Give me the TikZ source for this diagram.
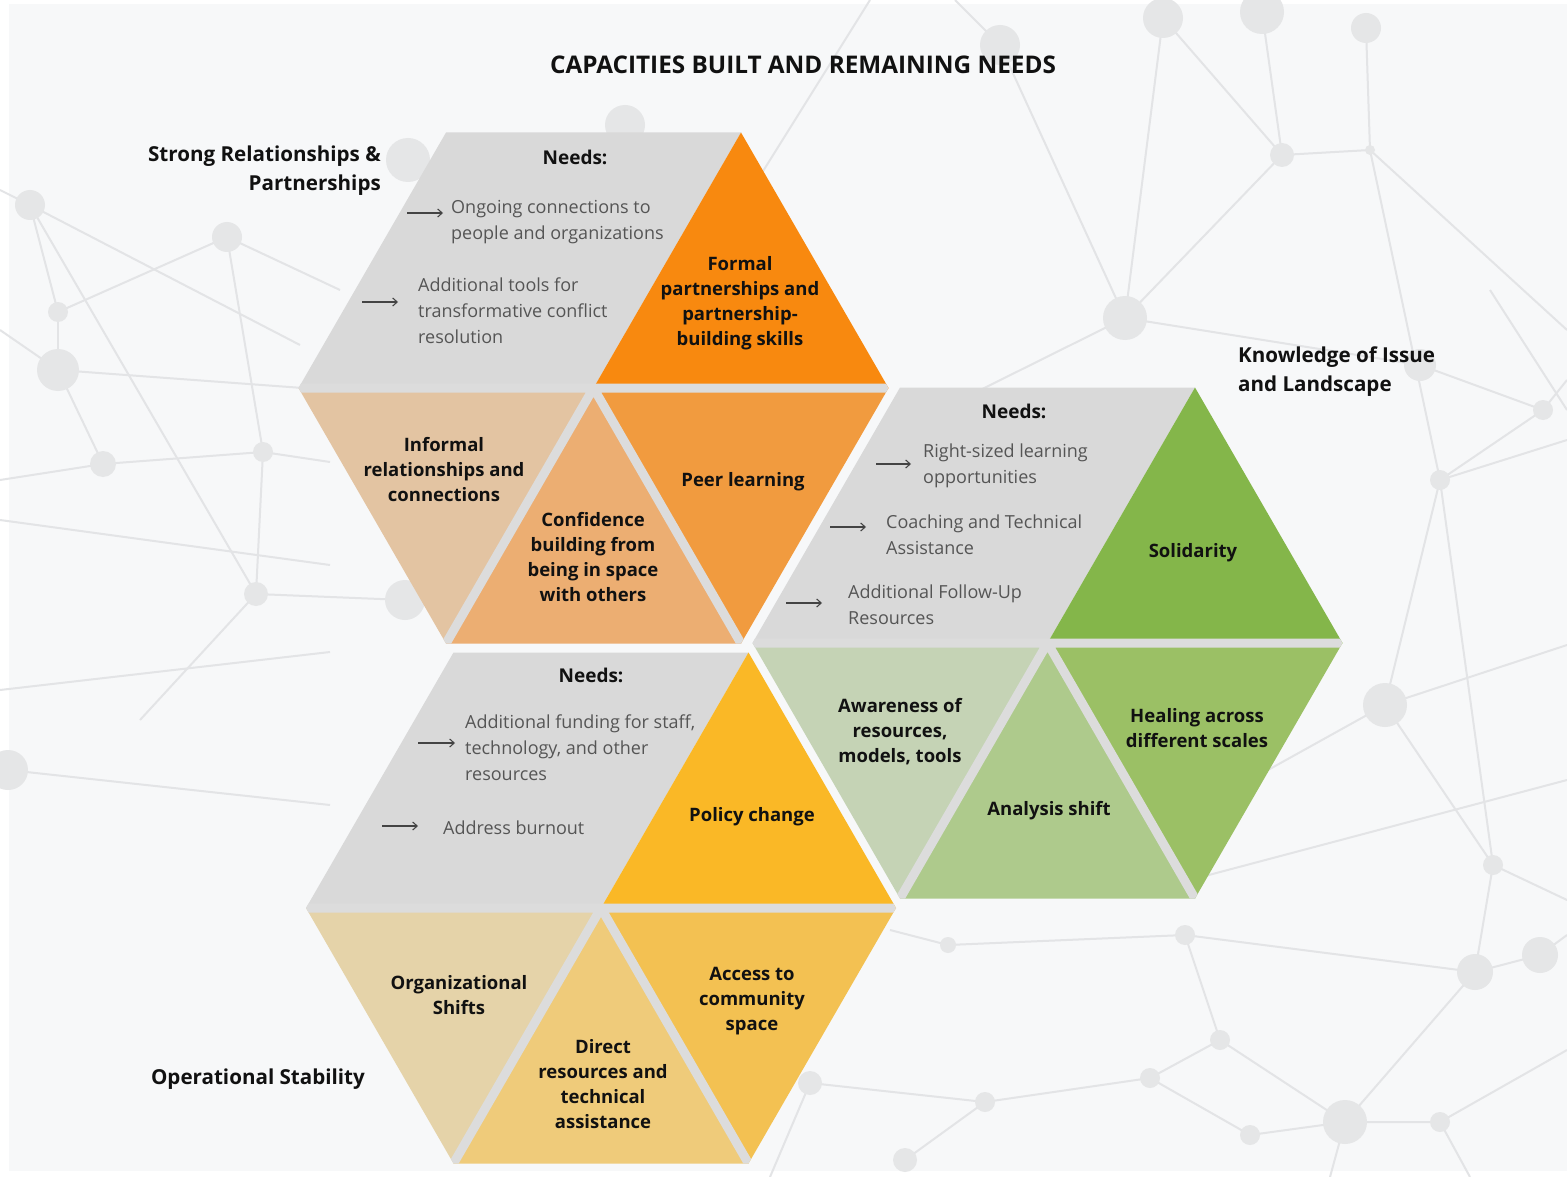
\documentclass[tikz,border=0pt]{standalone}
\usepackage{fontspec}
\setmainfont{Open Sans}
\usetikzlibrary{calc,arrows.meta}
\definecolor{bgc}{HTML}{F7F8F9}
\definecolor{netc}{HTML}{E3E4E6}
\definecolor{dotc}{HTML}{E5E6E7}
\definecolor{needc}{HTML}{D9D9D9}
\definecolor{gapc}{HTML}{DCDCDC}
\definecolor{ntext}{HTML}{555555}
\definecolor{ink}{HTML}{111111}
\definecolor{oFormal}{HTML}{F8890F}
\definecolor{oPeer}{HTML}{F19B3F}
\definecolor{oConf}{HTML}{ECAE72}
\definecolor{oInf}{HTML}{E3C4A2}
\definecolor{gSol}{HTML}{84B64A}
\definecolor{gHeal}{HTML}{9BC065}
\definecolor{gAna}{HTML}{AECA8C}
\definecolor{gAwa}{HTML}{C5D3B5}
\definecolor{yPol}{HTML}{FAB826}
\definecolor{yAcc}{HTML}{F3C152}
\definecolor{yDir}{HTML}{EFCB7A}
\definecolor{yOrg}{HTML}{E5D3A9}
\newcommand{\hexpts}[3]{%
  \coordinate (#1c) at (#2,#3);
  \coordinate (#1L) at ($(#1c)+(-295,0)$);
  \coordinate (#1TL) at ($(#1c)+(-147.5,-255.5)$);
  \coordinate (#1TR) at ($(#1c)+(147.5,-255.5)$);
  \coordinate (#1R) at ($(#1c)+(295,0)$);
  \coordinate (#1BR) at ($(#1c)+(147.5,255.5)$);
  \coordinate (#1BL) at ($(#1c)+(-147.5,255.5)$);
}
\newcommand{\hexspokes}[1]{%
  \begin{scope}
    \clip (#1L) -- (#1TL) -- (#1TR) -- (#1R) -- (#1BR) -- (#1BL) -- cycle;
    \draw[spoke] (#1c) -- (#1L) (#1c) -- (#1R) (#1c) -- (#1BR) (#1c) -- (#1BL);
  \end{scope}
}
\begin{document}
\begin{tikzpicture}[x=1pt,y=-1pt,
  net/.style={draw=netc,line width=2pt},
  dot/.style={fill=dotc},
  spoke/.style={draw=gapc,line width=9pt,line cap=butt},
  lab/.style={font=\bfseries\fontsize{18.5}{25}\selectfont,text=ink,align=center,inner sep=0pt,yshift=-2pt},
  needhead/.style={font=\bfseries\fontsize{19}{25}\selectfont,text=ink,inner sep=0pt},
  need/.style={font=\fontsize{18}{26}\selectfont,text=ntext,align=left,anchor=west,inner sep=0pt,yshift=-2pt},
  grp/.style={font=\bfseries\fontsize{20.6}{29}\selectfont,text=ink,inner sep=0pt,yshift=-3pt},
  arr/.style={draw=ntext!80!black,line width=1.1pt,-{Straight Barb[length=4.5pt,width=8pt]}}
]
\useasboundingbox (0,0) rectangle (1567,1177);
\fill[white] (0,0) rectangle (1567,1177);
\fill[bgc] (9,4) rectangle (1567,1171);

% ---------------- background network ----------------
\draw[net] (0,190) -- (30,205) -- (300,345);
\draw[net] (30,205) -- (256,594);
\draw[net] (30,205) -- (58,312);
\draw[net] (227,237) -- (263,452);
\draw[net] (227,237) -- (58,312);
\draw[net] (227,237) -- (340,290);
\draw[net] (58,312) -- (58,370);
\draw[net] (0,330) -- (58,370) -- (330,390);
\draw[net] (58,370) -- (103,464) -- (263,452) -- (330,462);
\draw[net] (0,480) -- (103,464);
\draw[net] (263,452) -- (256,594) -- (405,600);
\draw[net] (0,520) -- (330,565);
\draw[net] (256,594) -- (140,720);
\draw[net] (0,690) -- (330,652);
\draw[net] (8,770) -- (330,805);
\draw[net] (870,0) -- (700,272);
\draw[net] (1000,45) -- (1125,318);
\draw[net] (1000,45) -- (955,0);
\draw[net] (1125,318) -- (920,420);
\draw[net] (1125,318) -- (1282,155);
\draw[net] (1163,18) -- (1125,318);
\draw[net] (1163,18) -- (1282,155);
\draw[net] (1262,12) -- (1282,155) -- (1370,150);
\draw[net] (1366,28) -- (1370,150) -- (1567,330);
\draw[net] (1370,150) -- (1440,480);
\draw[net] (1125,318) -- (1420,365) -- (1543,410) -- (1567,380);
\draw[net] (1440,480) -- (1543,410);
\draw[net] (1440,480) -- (1567,440);
\draw[net] (1440,480) -- (1385,705);
\draw[net] (1440,480) -- (1493,865);
\draw[net] (1490,290) -- (1567,410);
\draw[net] (1385,705) -- (1567,645);
\draw[net] (1385,705) -- (1250,780);
\draw[net] (1385,705) -- (1493,865) -- (1567,900);
\draw[net] (1493,865) -- (1475,972) -- (1540,955) -- (1567,935);
\draw[net] (1475,972) -- (1345,1122);
\draw[net] (1475,972) -- (1185,935) -- (948,945) -- (890,930);
\draw[net] (1185,935) -- (1220,1040) -- (1150,1078) -- (985,1102) -- (810,1083);
\draw[net] (985,1102) -- (905,1160);
\draw[net] (1150,1078) -- (1250,1135) -- (1345,1122) -- (1440,1122) -- (1567,1050);
\draw[net] (1220,1040) -- (1345,1122) -- (1330,1177);
\draw[net] (1440,1122) -- (1470,1177);
\draw[net] (810,1083) -- (770,1177);
\draw[net] (1567,780) -- (1190,880);
\foreach \px/\py/\r in {30/205/15, 227/237/15, 58/312/10, 58/370/21, 103/464/13, 263/452/10,
  256/594/12, 405/600/20, 408/160/22, 8/770/20, 625/125/20, 1000/45/20, 1163/18/20,
  1262/12/22, 1366/28/15, 1282/155/12, 1370/150/5, 1125/318/22, 1420/365/16, 1543/410/10,
  1440/480/10, 1385/705/22, 1493/865/10, 1540/955/18, 1475/972/18, 1185/935/10, 948/945/8,
  1220/1040/10, 1150/1078/10, 985/1102/10, 1345/1122/22, 1250/1135/10, 1440/1122/10,
  905/1160/12, 810/1083/12}
  \fill[dot] (\px,\py) circle[radius=\r pt];

% ---------------- hexagon vertices ----------------
\hexpts{ha}{593.5}{388}
\hexpts{hb}{1047.5}{643}
\hexpts{hc}{601}{908}

% ---------------- hexagon 1 (orange) ----------------
\fill[needc] (haL) -- (haTL) -- (haTR) -- (hac) -- cycle;
\fill[oFormal] (hac) -- (haTR) -- (haR) -- cycle;
\fill[oPeer] (hac) -- (haR) -- (haBR) -- cycle;
\fill[oConf] (hac) -- (haBR) -- (haBL) -- cycle;
\fill[oInf] (hac) -- (haBL) -- (haL) -- cycle;
\hexspokes{ha}

% ---------------- hexagon 2 (green) ----------------
\fill[needc] (hbL) -- (hbTL) -- (hbTR) -- (hbc) -- cycle;
\fill[gSol] (hbc) -- (hbTR) -- (hbR) -- cycle;
\fill[gHeal] (hbc) -- (hbR) -- (hbBR) -- cycle;
\fill[gAna] (hbc) -- (hbBR) -- (hbBL) -- cycle;
\fill[gAwa] (hbc) -- (hbBL) -- (hbL) -- cycle;
\hexspokes{hb}

% ---------------- hexagon 3 (yellow) ----------------
\fill[needc] (hcL) -- (hcTL) -- (hcTR) -- (hcc) -- cycle;
\fill[yPol] (hcc) -- (hcTR) -- (hcR) -- cycle;
\fill[yAcc] (hcc) -- (hcR) -- (hcBR) -- cycle;
\fill[yDir] (hcc) -- (hcBR) -- (hcBL) -- cycle;
\fill[yOrg] (hcc) -- (hcBL) -- (hcL) -- cycle;
\hexspokes{hc}

% ---------------- titles ----------------
\node[font=\bfseries\fontsize{24.3}{28}\selectfont,text=ink,inner sep=0pt] (title) at (803,65) {CAPACITIES BUILT AND REMAINING NEEDS};
\node[grp,align=right,anchor=east] (gStrong) at (381,168) {Strong Relationships \&\\Partnerships};
\node[grp,align=left,anchor=west] (gKnow) at (1238,369) {Knowledge of Issue\\and Landscape};
\node[grp] (gOper) at (258,1076) {Operational Stability};

% ---------------- hexagon 1 texts ----------------
\node[needhead] (needA) at (575,157) {Needs:};
\node[need] (nA1) at (451,220) {Ongoing connections to\\people and organizations};
\node[need] (nA2) at (418,309) {Additional tools for\\transformative conflict\\resolution};
\coordinate (aA1s) at (407,213); \coordinate (aA1e) at (443,213);
\coordinate (aA2s) at (362,302); \coordinate (aA2e) at (398,302);
\draw[arr] (aA1s) -- (aA1e);
\draw[arr] (aA2s) -- (aA2e);
\node[lab] (formal) at (740,301) {Formal\\partnerships and\\partnership-\\building skills};
\node[lab] (informal) at (444,468) {Informal\\relationships and\\connections};
\node[lab] (confid) at (593,555) {Confidence\\building from\\being in space\\with others};
\node[lab] (peer) at (743,480) {Peer learning};

% ---------------- hexagon 2 texts ----------------
\node[needhead] (needB) at (1014,411) {Needs:};
\node[need] (nB1) at (923,464) {Right-sized learning\\opportunities};
\node[need] (nB2) at (886,533) {Coaching and Technical\\Assistance};
\node[need] (nB3) at (848,603) {Additional Follow-Up\\Resources};
\coordinate (aB1s) at (876,464); \coordinate (aB1e) at (911,464);
\coordinate (aB2s) at (830,527); \coordinate (aB2e) at (866,527);
\coordinate (aB3s) at (786,603); \coordinate (aB3e) at (822,603);
\draw[arr] (aB1s) -- (aB1e);
\draw[arr] (aB2s) -- (aB2e);
\draw[arr] (aB3s) -- (aB3e);
\node[lab] (solid) at (1193,551) {Solidarity};
\node[lab] (aware) at (900,730) {Awareness of\\resources,\\models, tools};
\node[lab] (analysis) at (1049,809) {Analysis shift};
\node[lab] (healing) at (1197,726) {Healing across\\different scales};

% ---------------- hexagon 3 texts ----------------
\node[needhead] (needC) at (591,675) {Needs:};
\node[need] (nC1) at (465,746) {Additional funding for staff,\\technology, and other\\resources};
\node[need] (nC2) at (443,826) {Address burnout};
\coordinate (aC1s) at (418,743); \coordinate (aC1e) at (455,743);
\coordinate (aC2s) at (382,826); \coordinate (aC2e) at (418,826);
\draw[arr] (aC1s) -- (aC1e);
\draw[arr] (aC2s) -- (aC2e);
\node[lab] (policy) at (752,815) {Policy change};
\node[lab] (orgsh) at (459,993) {Organizational\\Shifts};
\node[lab] (direct) at (603,1082) {Direct\\resources and\\technical\\assistance};
\node[lab] (access) at (752,999) {Access to\\community\\space};
\end{tikzpicture}
\end{document}
